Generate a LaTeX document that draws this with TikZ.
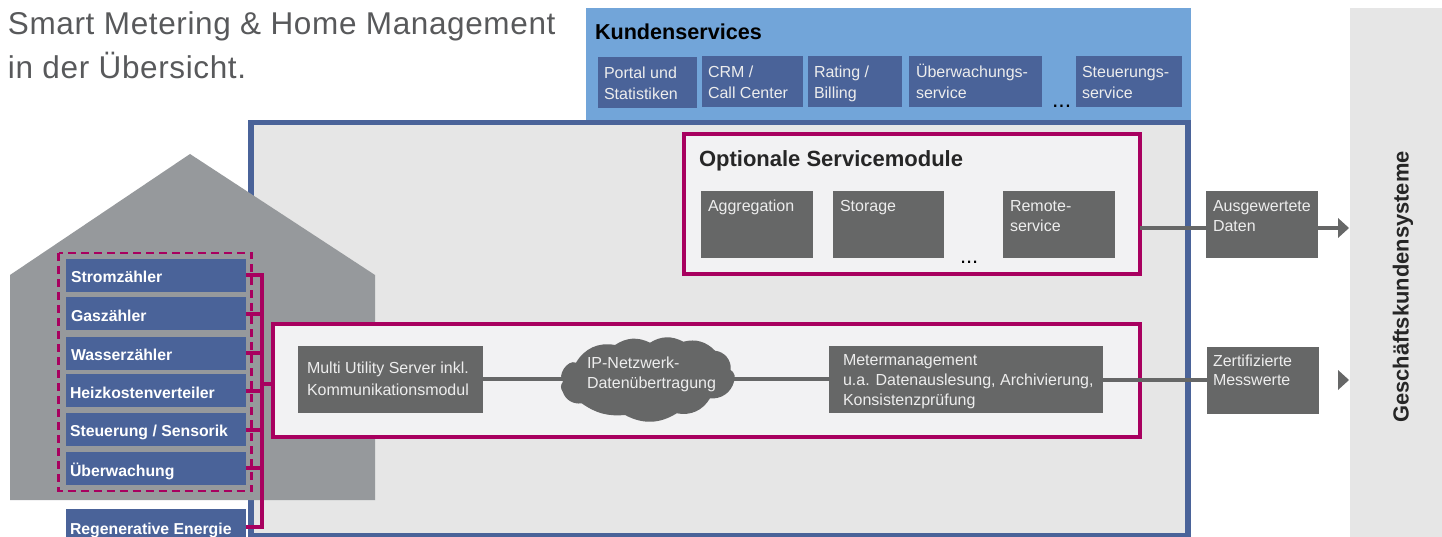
\documentclass[tikz,border=0pt]{standalone}
\usepackage{fontspec}
\setmainfont{Liberation Sans}
\definecolor{mag}{HTML}{A8005F}
\definecolor{bluebox}{HTML}{4A6399}
\definecolor{skyb}{HTML}{72A5D9}
\definecolor{house}{HTML}{96999C}
\definecolor{panel}{HTML}{E6E6E6}
\definecolor{inner}{HTML}{F2F2F3}
\definecolor{dark}{HTML}{666767}
\definecolor{ttl}{HTML}{58595B}
\definecolor{soft}{HTML}{EDEDED}
\tikzset{
  plain/.style={inner sep=0pt,outer sep=0pt,anchor=north west},
  grayline/.style={draw=dark,line width=4pt},
  busline/.style={draw=mag,line width=4pt},
  magframe/.style={draw=mag,line width=4pt,fill=inner},
}
% name, x1,y1,x2,y2, fill, text colour, left pad, text
\newcommand\bx[9]{%
  \pgfmathsetlengthmacro\bw{(#4-#2)*1pt}%
  \pgfmathsetlengthmacro\bh{(#5-#3)*1pt}%
  \node[plain,fill=#6,text=#7] (#1) at (#2,#3) {\parbox[c][\bh][t]{\bw}{\boxtext{#8}{#9}}};}
\newcommand\boxtext[2]{\lightfont\parindent=0pt\leftskip=#1pt\rightskip=0pt plus 1fil\baselineskip=\boxlead\relax\hbadness=10000\hfuzz=50pt\vspace*{-4pt}\vspace*{\boxoff}\leavevmode\rule{0pt}{20pt}#2}
\newcommand\lightfont{\fontsize{16pt}{22pt}\selectfont}
\newcommand\boxlead{20pt}
\newcommand\boxoff{0pt}
\newcommand\setb[2]{\renewcommand\boxoff{#1pt}\renewcommand\boxlead{#2pt}}
\begin{document}
\begin{tikzpicture}[x=1pt,y=-1pt]
\useasboundingbox (0,0) rectangle (1442,537);
% right bar
\node[plain,fill=panel,minimum width=92pt,minimum height=529pt] (bar) at (1350,8) {};
\node[rotate=90,inner sep=0pt,font=\fontsize{21.9pt}{24pt}\selectfont\bfseries,text=black!85] (barlabel) at (1403,287) {Geschäftskundensysteme};
% title
\node[plain,anchor=base west,text=ttl,font=\fontsize{31.5pt}{36pt}\selectfont] (t1) at (8,35) {\addfontfeature{LetterSpace=2.0}Smart Metering \& Home Management};
\node[plain,anchor=base west,text=ttl,font=\fontsize{31.5pt}{36pt}\selectfont] (t2) at (8,79) {\addfontfeature{LetterSpace=2.0}in der Übersicht.};
% Kundenservices
\node[plain,fill=skyb,minimum width=605pt,minimum height=113pt] (kund) at (586,8) {};
\node[plain,anchor=base west,text=black,font=\fontsize{21.6pt}{24pt}\selectfont\bfseries] (kundt) at (595,40) {Kundenservices};
% main panel
\draw[draw=bluebox,line width=5.5pt,fill=panel] (251,122.5) rectangle (1188,536) ;
\setb{6}{20.5}
\bx{portal}{598}{57}{697}{108}{bluebox}{soft}{6}{Portal und\\Statistiken}
\bx{crm}{702}{56}{803}{107}{bluebox}{soft}{6}{CRM /\\Call Center}
\bx{rating}{808}{56}{902}{107}{bluebox}{soft}{6}{Rating /\\Billing}
\bx{ueber}{909}{56}{1042}{107}{bluebox}{soft}{7}{Überwachungs-\\service}
\bx{steu}{1076}{56}{1182}{107}{bluebox}{soft}{6}{Steuerungs-\\service}
\node[plain,anchor=base west,font=\fontsize{23pt}{24pt}\selectfont,text=black] (dots1) at (1052,108) {...};
% house
\fill[house] (10,275) -- (190,154) -- (375,275) -- (375,500) -- (10,500) -- cycle;
% optional frame
\node[plain,magframe,minimum width=456pt,minimum height=140pt] (opt) at (684,134) {};
\node[plain,anchor=base west,text=black!85,font=\fontsize{22pt}{24pt}\selectfont\bfseries] (optt) at (699,167) {Optionale Servicemodule};
\setb{5}{20}
\bx{aggr}{701}{191}{813}{258}{dark}{soft}{7}{Aggregation}
\bx{stor}{833}{191}{944}{258}{dark}{soft}{7}{Storage}
\bx{remote}{1003}{191}{1115}{258}{dark}{soft}{7}{Remote-\\service}
\node[plain,anchor=base west,font=\fontsize{22pt}{24pt}\selectfont,text=black] (dots2) at (960,263) {...};
% lower frame
\node[plain,magframe,minimum width=867pt,minimum height=113pt] (low) at (273,324) {};
\setb{11}{22}
\bx{multi}{298}{346}{483}{413}{dark}{soft}{9}{Multi Utility Server inkl.\\Kommunikationsmodul}
\setb{3}{20}
\bx{meter}{829}{346}{1103}{413}{dark}{soft}{14}{Metermanagement\\u.a. Datenauslesung, Archivierung,\\Konsistenzprüfung}
% output boxes
\setb{5}{20}
\bx{ausg}{1206}{191}{1318}{258}{dark}{soft}{7}{Ausgewertete\\Daten}
\setb{3}{19}
\bx{zert}{1207}{347}{1319}{414}{dark}{soft}{6}{Zertifizierte\\Messwerte}
% gray connectors
\coordinate (tipA) at (1340,228);
\coordinate (midL) at (646,379);
\coordinate (midR) at (1150,380);
\coordinate (ipc) at (566,338);
\coordinate (ipd) at (730,421);
\draw[grayline] (multi.east |- midL) -- (ipc |- midL);
\draw[grayline] (ipd |- midL) -- (meter.west |- midL);
\draw[grayline] (meter.east |- midR) -- (zert.west |- midR);
\draw[grayline] (opt.east |- tipA) -- (ausg.west |- tipA);
\draw[grayline] (ausg.east |- tipA) -- (tipA);
\fill[dark] (1338,218) -- (1349,228) -- (1338,238) -- cycle;
\fill[dark] (1338,370) -- (1349,380) -- (1338,390) -- cycle;
% cloud outline
\fill[dark] (563,381.7) to[bend left=80] (576,362.7) to[bend left=35] (615,345) to[bend left=30] (650,342.7)
  to[bend left=30] (683.3,341.7) to[bend left=30] (715,350.7) to[bend left=45] (730.7,370)
  to[bend left=40] (734,381.7) to[bend left=40] (710,398.3) to[bend left=35] (676.7,413.3)
  to[bend left=30] (625,415) to[bend left=20] (581.7,403.3) to[bend left=40] (562.7,391.7) to[bend left=40] cycle;
\setb{14}{20}
\bx{ip}{558}{338}{735}{421}{none}{soft}{29}{IP-Netzwerk-\\Datenübertragung}
% dashed
\draw[mag,line width=2.2pt,dash pattern=on 8pt off 5pt] (58.5,253) rectangle (251.5,491);
% sources
\newcommand\src[6]{\node[plain,fill=bluebox,minimum width=180pt,minimum height=#5pt,text=white] (#1) at (66,#2) {};
  \node[plain,anchor=base west,text=white,font=\fontsize{15.8pt}{20pt}\selectfont\bfseries] (#1t) at (#3,#4) {#6};}
\src{s1}{259}{71}{282}{33}{Stromzähler}
\src{s2}{297}{71}{321}{33}{Gaszähler}
\src{s3}{337}{71}{360}{33}{Wasserzähler}
\src{s4}{374}{70}{398}{33}{Heizkostenverteiler}
\src{s5}{413}{70}{436}{33}{Steuerung / Sensorik}
\src{s6}{452}{70}{476}{33}{Überwachung}
\src{s7}{509}{70}{534}{28}{Regenerative Energie}
% bus
\coordinate (busT) at (262,275);
\coordinate (busB) at (262,527);
\coordinate (busM) at (262,383.5);
\draw[busline] (s1.east |- busT) -- (busT) -- (busB) -- (s7.east |- busB);
\coordinate (b2) at (262,314);\coordinate (b3) at (262,353);\coordinate (b4) at (262,391);\coordinate (b5) at (262,430);\coordinate (b6) at (262,468);
\draw[busline] (s2.east |- b2) -- (b2);
\draw[busline] (s3.east |- b3) -- (b3);
\draw[busline] (s4.east |- b4) -- (b4);
\draw[busline] (s5.east |- b5) -- (b5);
\draw[busline] (s6.east |- b6) -- (b6);
\draw[busline] (busM) -- (low.west |- busM);
\end{tikzpicture}
\end{document}
